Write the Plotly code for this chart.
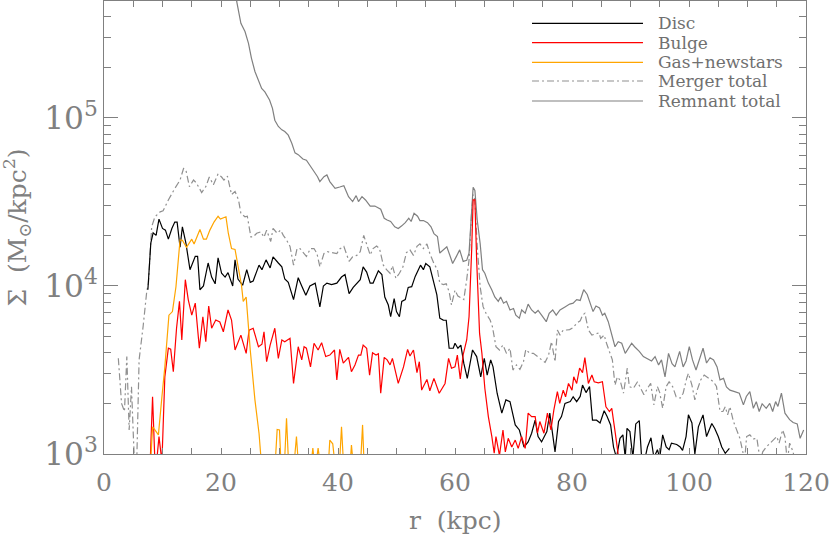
import plotly.graph_objects as go

# surface density profiles, r in kpc, Sigma in Msun/kpc^2 (values < 1e3 fall below the axis)
disc_r = [7.5, 8.0, 8.4, 8.9, 9.4, 10.0, 10.5, 11.0, 11.6, 12.1,
          12.5, 13.0, 13.4, 14.0, 14.7, 15.6, 16.0, 16.4, 17.0, 17.8,
          18.4, 19.0, 19.5, 20.1, 20.7, 21.2, 22.0, 22.4, 22.9, 23.7,
          24.4, 25.0, 25.5, 26.5, 27.0, 27.7, 28.4, 28.9, 29.8, 30.4,
          30.9, 31.5, 32.4, 33.2, 33.8, 34.5, 35.2, 36.1, 36.9, 37.5,
          38.1, 38.9, 39.8, 40.6, 41.2, 41.9, 42.6, 43.2, 43.8, 44.3,
          44.9, 45.5, 46.0, 46.9, 47.5, 48.0, 48.6, 49.0, 49.6, 50.0,
          50.5, 50.9, 51.5, 52.0, 52.6, 53.2, 53.7, 54.1, 54.6, 55.0,
          55.7, 56.3, 56.9, 57.4, 58.0, 58.5, 59.0, 59.7, 60.0, 60.5,
          61.0, 61.5, 62.1, 63.0, 63.7, 64.4, 65.0, 65.5, 66.1, 66.5,
          67.2, 68.0, 68.7, 69.4, 70.3, 71.0, 71.8, 72.5, 73.1, 73.7,
          74.2, 74.8, 75.7, 76.2, 77.1, 77.7, 78.2, 78.8, 79.7, 80.2,
          80.8, 81.4, 81.8, 82.4, 83.0, 83.5, 84.2, 84.8, 85.5, 86.0,
          86.6, 87.1, 87.6, 88.2, 88.7, 89.1, 89.4, 89.9, 90.4, 90.9,
          91.5, 91.9, 92.5, 92.9, 93.5, 94.0, 94.6, 95.0, 95.5, 96.1,
          96.6, 97.0, 97.9, 98.5, 98.9, 99.5, 99.9, 100.5, 101.0, 101.6,
          102.4, 103.0, 103.9, 104.4, 105.0, 105.6, 106.2, 106.9]
disc_v = [9500, 18000, 20700, 20000, 25000, 22000, 21500, 19000, 22000, 24000,
          24000, 17000, 22500, 18000, 12500, 15000, 15000, 9500, 10000, 13700,
          11300, 10300, 14700, 11900, 11300, 12000, 10000, 14300, 11000, 10100,
          12500, 10500, 10700, 13300, 12500, 14300, 12800, 14900, 13700, 13000,
          11000, 10500, 8300, 11200, 10000, 8800, 10000, 10400, 7500, 10000,
          10400, 10200, 10400, 11300, 11700, 9000, 9800, 10400, 10900, 13000,
          12100, 10400, 10400, 12300, 11700, 8600, 7700, 6560, 8400, 7040,
          6560, 8100, 8300, 9800, 9900, 11400, 12500, 13300, 12500, 13600,
          13000, 10900, 8840, 6430, 6270, 6250, 4260, 4260, 4560, 4260,
          4450, 3470, 2820, 4160, 3800, 2880, 3710, 2950, 3630, 3300,
          2300, 1750, 2100, 2050, 1490, 1390, 1100, 1180, 1330, 1590,
          1270, 1180, 1360, 1750, 1030, 1560, 1670, 2000, 2050, 2190,
          2050, 2200, 2570, 2320, 2520, 1590, 1590, 1530, 1810, 1670,
          1490, 1100, 950, 1240, 1300, 950, 1420, 1360, 950, 1510,
          1580, 950, 950, 1100, 1250, 950, 1060, 950, 1300, 1100,
          1060, 1160, 1140, 1100, 1050, 1270, 1710, 1530, 1000, 1450,
          1710, 1270, 1520, 1420, 1270, 1100, 1010, 1080]

bulge_r = [7.9, 8.3, 8.7, 9.0, 9.4, 9.9, 10.4, 11.0, 11.4, 11.85,
           12.4, 12.9, 13.3, 13.9, 14.4, 15.0, 15.6, 16.3, 16.9, 17.4,
           17.9, 18.4, 19.1, 19.8, 20.4, 21.2, 21.8, 22.4, 23.4, 24.3,
           24.8, 25.5, 26.4, 27.0, 27.35, 27.8, 28.4, 29.2, 29.8, 30.4,
           30.9, 31.8, 32.4, 33.2, 33.8, 34.2, 34.6, 35.3, 35.9, 36.6,
           37.2, 37.9, 38.6, 39.4, 39.8, 40.3, 40.9, 41.8, 42.3, 42.9,
           43.5, 43.9, 44.3, 44.9, 45.4, 45.9, 46.5, 46.9, 47.3, 47.9,
           48.4, 48.9, 49.3, 50.3, 51.2, 51.9, 52.3, 52.9, 53.5, 53.9,
           54.3, 55.2, 55.7, 56.4, 57.3, 58.3, 58.9, 59.4, 60.0, 60.4,
           60.9, 61.4, 62.0, 62.4, 62.85, 63.1, 63.4, 63.7, 64.2, 64.6,
           65.1, 65.7, 66.3, 66.7, 67.0, 67.6, 68.2, 68.6, 69.1, 69.7,
           70.3, 70.8, 71.4, 72.0, 72.5, 73.1, 73.7, 74.1, 74.5, 75.2,
           75.8, 76.4, 76.9, 77.5, 77.9, 78.5, 78.9, 79.4, 80.0, 80.3,
           80.8, 81.3, 81.8, 82.2, 82.8, 83.4, 83.8, 84.5, 85.2, 85.8,
           86.4, 86.8, 87.4, 87.9]
bulge_v = [900, 2190, 900, 900, 1270, 900, 2880, 4260, 4200, 3090,
           5600, 8100, 4770, 10900, 8300, 6700, 7900, 4260, 6560, 4660,
           7600, 5600, 6270, 6100, 5340, 7200, 6270, 4160, 5100, 3970,
           5460, 5600, 4350, 4500, 5340, 3540, 4450, 5600, 3710, 4770,
           4660, 4880, 2630, 4350, 3630, 4350, 4260, 3300, 4560, 4160,
           4600, 3800, 3880, 4160, 2760, 4200, 3470, 3760, 3090, 3390,
           3880, 3880, 4450, 4260, 2950, 4000, 3880, 3950, 2300, 3760,
           3630, 3390, 3710, 2630, 3300, 4190, 3830, 4160, 3050, 3540,
           2400, 2780, 2380, 2820, 2300, 2630, 3710, 3240, 3300, 3880,
           2800, 3900, 4770, 6560, 16400, 32500, 32500, 14300, 5220, 3970,
           2460, 1670, 1270, 1010, 1270, 980, 1390, 1030, 1240, 1100,
           1210, 1080, 1270, 1080, 1750, 1670, 1670, 1330, 1560, 1330,
           1750, 1390, 1830, 2350, 2000, 2400, 2190, 2630, 2400, 2880,
           2630, 3250, 3050, 3750, 2630, 2950, 2690, 2650, 2690, 1910,
           1790, 1870, 1330, 990]

gas_r = [7.9, 8.3, 8.7, 9.3, 9.9, 10.4, 11.1, 11.7, 12.3, 13.0,
         13.4, 14.1, 15.0, 15.4, 16.4, 17.0, 17.5, 18.1, 18.8, 19.5,
         19.9, 20.5, 20.85, 21.25, 21.8, 22.4, 22.95, 23.5, 23.8, 24.3,
         25.0, 25.8, 26.5, 27.0, 29.2, 29.6, 30.0, 30.3, 30.8, 31.2,
         31.6, 32.4, 32.9, 33.3, 35.3, 35.7, 36.1, 36.6, 37.1, 38.3,
         38.6, 39.1, 39.6, 40.2, 40.6, 41.0, 42.0, 42.3, 42.7, 43.8,
         44.2, 44.5]
gas_v = [800, 1450, 1390, 1300, 2190, 3300, 6700, 7040, 9900, 18800,
         18700, 17000, 19000, 17800, 21700, 19000, 19000, 21500, 24000, 26000,
         25000, 25500, 25800, 20600, 16700, 16500, 13000, 10100, 8100, 8600,
         4160, 2100, 1330, 800, 800, 1400, 1390, 800, 800, 1630,
         800, 800, 1270, 800, 800, 1085, 800, 1085, 800, 800,
         1210, 1150, 800, 800, 1450, 800, 800, 1130, 800, 800,
         1490, 800]

merger_r = [2.45, 3.0, 3.5, 3.9, 4.3, 4.7, 5.0, 5.2, 5.6, 6.0,
            6.7, 7.3, 7.6, 8.15, 8.7, 9.6, 10.1, 11.0, 12.1, 13.0,
            13.6, 14.0, 14.6, 15.3, 15.8, 16.7, 17.4, 18.0, 18.7, 19.5,
            20.1, 20.5, 21.1, 21.8, 22.4, 23.0, 23.4, 24.1, 24.5, 25.1,
            25.5, 26.1, 26.8, 27.35, 27.8, 28.5, 28.9, 29.6, 30.2, 30.65,
            31.2, 31.8, 32.4, 33.0, 33.5, 34.1, 34.6, 35.3, 35.9, 36.4,
            36.9, 37.6, 38.2, 38.9, 39.8, 40.3, 41.0, 41.9, 42.5, 43.2,
            43.8, 44.4, 45.0, 45.5, 46.0, 46.6, 47.1, 47.75, 48.3, 48.9,
            49.3, 49.9, 50.5, 51.1, 51.7, 52.3, 52.9, 53.5, 54.0, 54.6,
            55.2, 55.7, 56.4, 57.0, 57.4, 58.0, 58.5, 59.0, 59.4, 60.0,
            60.5, 61.1, 61.5, 62.0, 62.4, 62.85, 63.1, 63.4, 63.8, 64.3,
            64.8, 65.3, 66.0, 66.4, 67.0, 67.6, 68.2, 68.8, 69.4, 69.9,
            70.5, 71.1, 71.7, 72.1, 72.8, 73.4, 74.1, 74.8, 75.4, 76.0,
            76.5, 77.1, 77.5, 77.95, 78.5, 79.1, 79.6, 80.2, 80.8, 81.4,
            81.8, 82.2, 82.8, 83.4, 84.0, 84.6, 84.9, 85.5, 85.9, 86.5,
            86.9, 87.35, 87.75, 88.2, 88.8, 89.45, 89.8, 90.5, 91.2, 91.6,
            92.3, 92.9, 93.45, 94.0, 94.6, 95.0, 95.5, 96.1, 96.6, 97.2,
            97.8, 98.5, 99.0, 99.6, 99.9, 100.5, 101.0, 101.4, 102.0, 102.6,
            103.3, 104.2, 104.7, 105.3, 105.8, 106.2, 106.6, 107.0, 107.6, 108.1,
            108.7, 109.2, 109.5, 109.85, 110.4, 111.0, 111.6, 112.2, 112.6, 113.2,
            113.9, 114.4, 115.0, 115.4, 116.0, 116.4, 116.8, 117.2, 117.8, 118.1]
merger_v = [3710, 2000, 1790, 3800, 1390, 2510, 1330, 900, 900, 3630,
            5800, 9230, 10400, 22500, 25800, 27600, 28000, 32500, 38000, 42700,
            50000, 49000, 39000, 42700, 41000, 36000, 39000, 44500, 40000, 46500,
            44500, 42700, 45000, 35000, 36500, 32500, 27000, 25800, 26000, 19600,
            19600, 20600, 21000, 19500, 21500, 18400, 22000, 20600, 21500, 20000,
            18800, 17200, 13300, 16700, 16700, 15600, 15000, 16700, 16700, 15600,
            13000, 15600, 16000, 15800, 15600, 16600, 17200, 14000, 14900, 15200,
            16000, 20000, 17200, 15300, 16700, 17300, 16700, 13300, 12500, 11900,
            13200, 11100, 11900, 13000, 15800, 16400, 15200, 17200, 17800, 16700,
            17800, 15600, 13600, 12500, 10400, 10200, 10300, 9230, 7700, 9450,
            8700, 8500, 8300, 10900, 14300, 28000, 35000, 32500, 17200, 9900,
            7530, 6880, 6270, 5720, 4350, 4160, 4450, 3970, 4260, 3160,
            3390, 3190, 3540, 4190, 3970, 3970, 3800, 3630, 3510, 3880,
            4660, 3540, 5470, 5100, 5470, 5470, 5500, 5660, 6000, 6200,
            6700, 6880, 5470, 5100, 5200, 5260, 4880, 5100, 4560, 3970,
            3630, 2570, 2880, 2760, 2300, 3240, 2520, 2460, 2690, 2520,
            2250, 2460, 2630, 1960, 2520, 2320, 1870, 2520, 2690, 2520,
            2190, 2150, 2300, 2820, 3020, 2570, 2100, 2400, 2760, 2950,
            2820, 2690, 2520, 1790, 1790, 1910, 1710, 1910, 1560, 1390,
            1240, 1030, 900, 1270, 1300, 1230, 1240, 900, 1030, 1100,
            1160, 1200, 1270, 1160, 1390, 1270, 900, 1160, 1030, 900]

remnant_r = [22.2, 22.7, 23.4, 24.1, 24.7, 25.2, 25.8, 26.4, 26.95, 27.5,
             28.3, 28.8, 29.2, 29.8, 30.4, 30.9, 31.5, 32.1, 32.65, 33.2,
             34.0, 34.6, 35.2, 35.9, 36.5, 36.9, 37.6, 38.1, 38.6, 39.5,
             40.3, 41.0, 41.8, 42.5, 43.1, 43.5, 44.1, 44.7, 45.5, 46.3,
             47.3, 47.9, 48.4, 49.0, 49.7, 50.3, 50.9, 51.5, 52.1, 52.5,
             53.0, 53.6, 54.0, 54.6, 55.3, 55.9, 56.4, 57.0, 57.4, 58.0,
             58.6, 59.1, 59.6, 60.2, 60.8, 61.4, 62.0, 62.4, 62.85, 63.1,
             63.4, 63.8, 64.3, 64.7, 65.1, 65.7, 66.3, 66.8, 67.4, 67.8,
             68.3, 68.8, 69.4, 70.0, 70.4, 71.0, 71.4, 72.0, 72.5, 73.1,
             73.7, 74.2, 74.8, 75.6, 76.1, 76.7, 77.3, 77.95, 78.8, 79.6,
             80.2, 80.8, 81.4, 82.0, 82.6, 83.2, 83.6, 84.1, 84.7, 85.2,
             85.6, 86.2, 86.8, 87.35, 87.9, 88.5, 89.1, 89.6, 90.2, 90.7,
             91.5, 92.2, 93.0, 93.6, 94.2, 94.8, 95.3, 95.9, 96.5, 97.1,
             97.6, 98.4, 99.0, 99.5, 100.05, 100.6, 101.2, 101.8, 102.4, 103.0,
             103.6, 104.2, 104.8, 105.3, 105.9, 106.4, 107.0, 107.8, 108.6, 109.3,
             109.8, 110.4, 111.0, 111.5, 112.0, 112.5, 113.2, 113.8, 114.3, 114.8,
             115.2, 115.8, 116.4, 117.2, 117.8, 118.5, 119.0, 119.6]
remnant_v = [650000, 490000, 366000, 327000, 278000, 227000, 189000, 168000, 150000, 143000,
             128000, 114000, 97000, 89000, 85000, 83000, 79000, 70700, 62000, 60500,
             57000, 56000, 52500, 48000, 44700, 41800, 44700, 45800, 41800, 38100,
             38800, 39500, 34000, 31800, 34500, 31800, 34000, 32500, 29900, 29900,
             28600, 25300, 24700, 24200, 22500, 22000, 22800, 23800, 25300, 24200,
             27100, 26000, 24500, 24500, 23800, 22500, 20500, 19700, 15700, 16400,
             17100, 15300, 13600, 14900, 16400, 14000, 14200, 15700, 28000, 38700,
             37000, 24700, 17900, 12500, 11900, 10400, 9450, 8600, 8100, 8600,
             7900, 8100, 7200, 7350, 6700, 6430, 7200, 6880, 7800, 7200,
             6880, 7150, 6700, 6130, 6880, 7200, 6700, 7200, 7500, 7800,
             7900, 8300, 8200, 9500, 8900, 7700, 7040, 7600, 7400, 6700,
             6880, 6130, 5220, 4350, 4660, 4560, 3970, 4260, 4560, 4350,
             4080, 3800, 3680, 3580, 3800, 3390, 3630, 2880, 3970, 3450,
             3300, 4080, 3300, 3580, 4350, 3630, 3160, 3630, 4260, 3480,
             3740, 3630, 3300, 2760, 2820, 2510, 2400, 2350, 2300, 1960,
             2200, 2350, 1870, 2050, 1790, 1990, 1870, 2000, 1790, 2050,
             1920, 2300, 1750, 1600, 1540, 1510, 1240, 1390]

names = ["Disc", "Bulge", "Gas+newstars", "Merger total", "Remnant total"]
colors = ["black", "#ff0000", "#ffa500", "#909090", "#808080"]
dashes = ["solid", "solid", "solid", "7px,3px,2px,3px", "solid"]
profiles = [(disc_r, disc_v), (bulge_r, bulge_v), (gas_r, gas_v),
            (merger_r, merger_v), (remnant_r, remnant_v)]

fig = go.Figure()
# draw the totals first so the components sit on top
for i in [3, 4, 0, 1, 2]:
    r, v = profiles[i]
    assert len(r) == len(v), names[i]
    fig.add_trace(go.Scatter(x=r, y=v, mode="lines", name=names[i], hoverinfo="skip",
                             line=dict(color=colors[i], width=1.2, dash=dashes[i])))

axis_grey = "#808080"
font = "DejaVu Serif"

fig.update_layout(
    width=830, height=538,
    margin=dict(l=104, r=24, t=1, b=84),
    paper_bgcolor="white", plot_bgcolor="white",
    font=dict(family=font, color=axis_grey),
    showlegend=False,
)
fig.update_xaxes(
    range=[0, 120], tick0=0, dtick=20, ticks="inside", ticklen=6, tickcolor=axis_grey,
    showline=True, linecolor=axis_grey, linewidth=1.2, mirror="ticks",
    showgrid=False, zeroline=False, tickfont=dict(size=25, color=axis_grey),
    ticklabelstandoff=6,
    minor=dict(dtick=5, ticks="inside", ticklen=6, tickcolor=axis_grey, showgrid=False),
)
fig.update_yaxes(
    type="log", range=[3, 5.696], dtick=1, exponentformat="power",
    ticks="inside", ticklen=14, tickcolor=axis_grey,
    showline=True, linecolor=axis_grey, linewidth=1.2, mirror="ticks",
    showgrid=False, zeroline=False, tickfont=dict(size=25, color=axis_grey),
    minor=dict(dtick="D1", ticks="inside", ticklen=7, tickcolor=axis_grey, showgrid=False),
)

# axis titles
fig.add_annotation(text="r  (kpc)", xref="paper", yref="paper", x=0.5, y=-0.146,
                   xanchor="center", yanchor="middle", showarrow=False,
                   font=dict(size=25, color=axis_grey, family=font))
fig.add_annotation(text="Σ  (M<sub>⊙</sub>/kpc<sup>2</sup>)", xref="paper", yref="paper",
                   x=-0.124, y=0.5, xanchor="center", yanchor="middle", textangle=-90,
                   showarrow=False, font=dict(size=25, color=axis_grey, family=font))

# legend drawn by hand: long sample lines as in the original
legend_y = [0.9508, 0.9079, 0.8647, 0.8234, 0.7792]
for name, color, dash, ly in zip(names, colors, dashes, legend_y):
    fig.add_shape(type="line", xref="paper", yref="paper", x0=0.6097, x1=0.7678, y0=ly, y1=ly,
                  line=dict(color=color, width=1.2, dash=dash))
    fig.add_annotation(text=name, xref="paper", yref="paper", x=0.7863, y=ly,
                       xanchor="left", yanchor="middle", showarrow=False,
                       font=dict(size=17, color="#707070", family=font))

# the page body has an 8px default margin; drop it so the figure fills the window
fig.write_html("out.html", config={"displayModeBar": False},
               post_script="document.body.style.margin = '0';")
